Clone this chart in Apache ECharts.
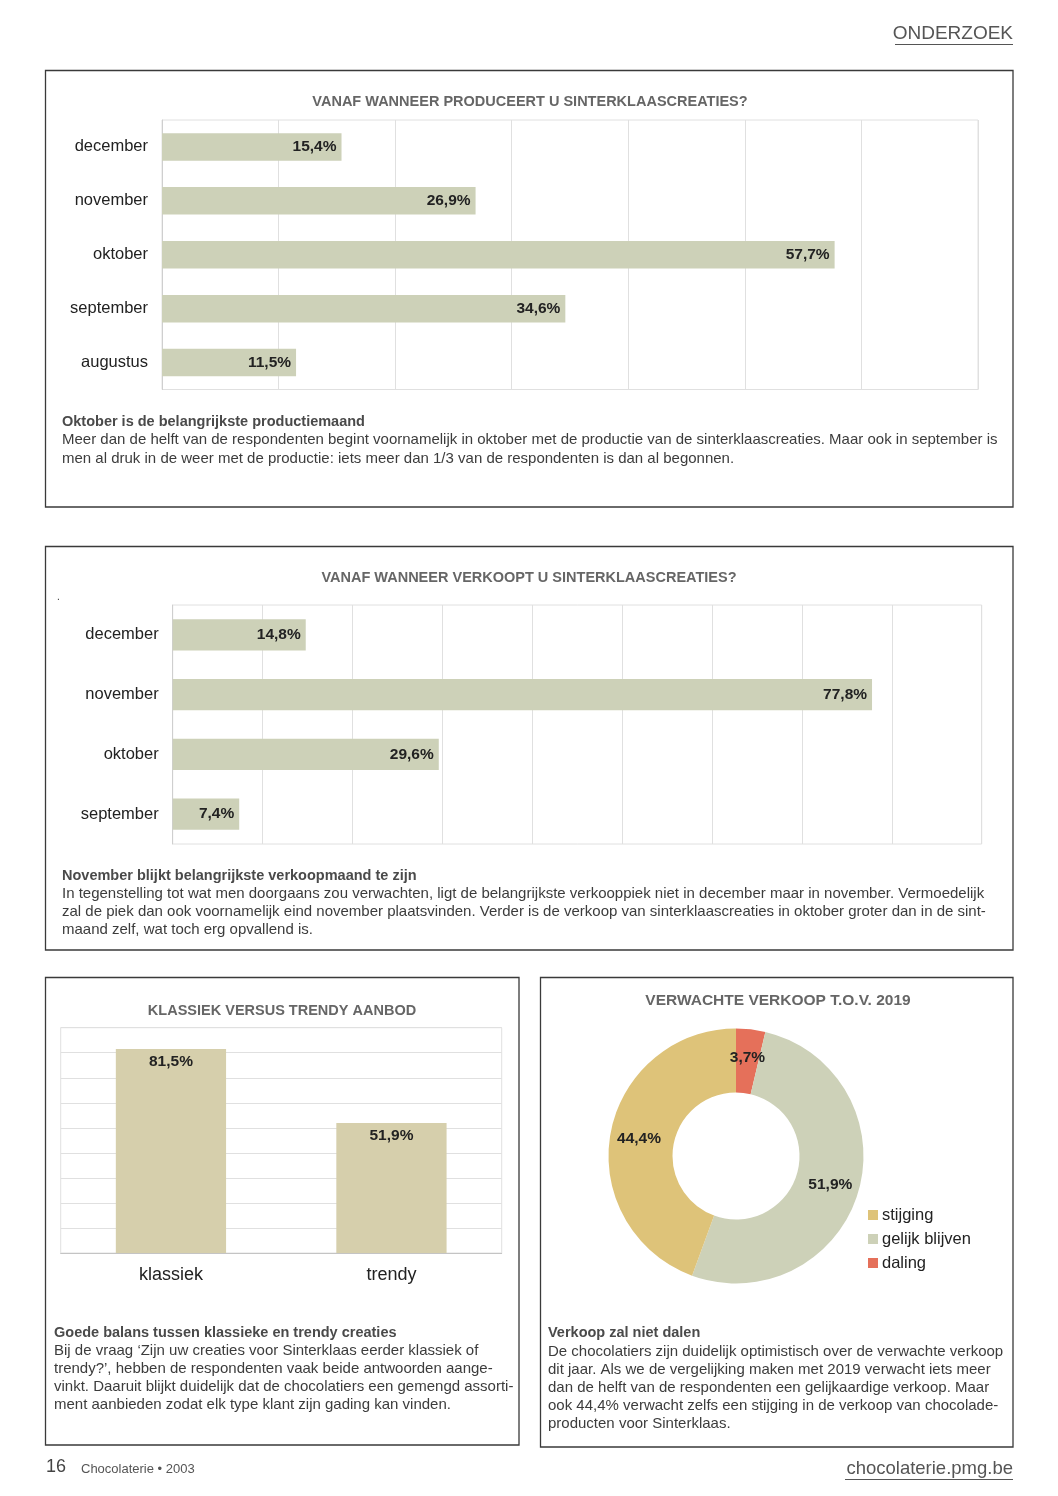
<!DOCTYPE html>
<html>
<head>
<meta charset="utf-8">
<script src="https://cdn.jsdelivr.net/npm/echarts@6/dist/echarts.min.js"></script>
<style>
html,body{margin:0;padding:0;background:#fff;}
#page{width:1058px;height:1496px;}
</style>
</head>
<body>
<div id="page"></div>
<script>
// ---- data ----
const prodCats = ['december', 'november', 'oktober', 'september', 'augustus'];
const prodVals = [15.4, 26.9, 57.7, 34.6, 11.5];
const saleCats = ['december', 'november', 'oktober', 'september'];
const saleVals = [14.8, 77.8, 29.6, 7.4];
const styleCats = ['klassiek', 'trendy'];
const styleVals = [81.5, 51.9];
const expectNames = ['daling', 'gelijk blijven', 'stijging'];
const expectVals = [3.7, 51.9, 44.4];
const legendOrder = ['stijging', 'gelijk blijven', 'daling'];

const titles = [
  'VANAF WANNEER PRODUCEERT U SINTERKLAASCREATIES?',
  'VANAF WANNEER VERKOOPT U SINTERKLAASCREATIES?',
  'KLASSIEK VERSUS TRENDY AANBOD',
  'VERWACHTE VERKOOP T.O.V. 2019'
];
const paragraphs = [
  {head: 'Oktober is de belangrijkste productiemaand', lines: [
    'Meer dan de helft van de respondenten begint voornamelijk in oktober met de productie van de sinterklaascreaties. Maar ook in september is',
    'men al druk in de weer met de productie: iets meer dan 1/3 van de respondenten is dan al begonnen.']},
  {head: 'November blijkt belangrijkste verkoopmaand te zijn', lines: [
    'In tegenstelling tot wat men doorgaans zou verwachten, ligt de belangrijkste verkooppiek niet in december maar in november. Vermoedelijk',
    'zal de piek dan ook voornamelijk eind november plaatsvinden. Verder is de verkoop van sinterklaascreaties in oktober groter dan in de sint-',
    'maand zelf, wat toch erg opvallend is.']},
  {head: 'Goede balans tussen klassieke en trendy creaties', lines: [
    'Bij de vraag \u2018Zijn uw creaties voor Sinterklaas eerder klassiek of',
    'trendy?\u2019, hebben de respondenten vaak beide antwoorden aange-',
    'vinkt. Daaruit blijkt duidelijk dat de chocolatiers een gemengd assorti-',
    'ment aanbieden zodat elk type klant zijn gading kan vinden.']},
  {head: 'Verkoop zal niet dalen', lines: [
    'De chocolatiers zijn duidelijk optimistisch over de verwachte verkoop',
    'dit jaar. Als we de vergelijking maken met 2019 verwacht iets meer',
    'dan de helft van de respondenten een gelijkaardige verkoop. Maar',
    'ook 44,4% verwacht zelfs een stijging in de verkoop van chocolade-',
    'producten voor Sinterklaas.']}
];

// ---- styling ----
const FONT = 'Liberation Sans, Arial, sans-serif';
const barGreen = '#cdd1b8';
const barBeige = '#d6cfac';
const sliceColors = {'stijging': '#dec379', 'gelijk blijven': '#cdd1b8', 'daling': '#e5705a'};
const fmt = v => v.toFixed(1).replace('.', ',') + '%';

const chart = echarts.init(document.getElementById('page'), null, {renderer: 'canvas'});

function para(p, x, yHead, yFirst, lh) {
  return [
    {type: 'text', x: x, y: yHead, style: {text: p.head, fontFamily: FONT, fontSize: 14.5, fontWeight: 'bold', fill: '#4a4a4a', verticalAlign: 'middle'}},
    {type: 'text', x: x, y: yFirst - lh / 2, style: {text: p.lines.join('\n'), fontFamily: FONT, fontSize: 15, fill: '#3c3c3c', lineHeight: lh, verticalAlign: 'top'}}
  ];
}
function box(x, y, w, h) {
  return {type: 'rect', shape: {x: x, y: y, width: w, height: h}, style: {fill: 'none', stroke: '#3a3a3a', lineWidth: 1.3}, silent: true};
}
const titleStyle = {fontSize: 14.5, fontWeight: 'bold', color: '#666', fontFamily: FONT};

const option = {
  backgroundColor: '#fff',
  animation: false,
  textStyle: {fontFamily: FONT},
  title: [
    {text: titles[0], left: 525, top: 89, textAlign: 'center', textStyle: titleStyle},
    {text: titles[1], left: 524, top: 565, textAlign: 'center', textStyle: titleStyle},
    {text: titles[2], left: 277, top: 998, textAlign: 'center', textStyle: titleStyle},
    {text: titles[3], left: 773, top: 988, textAlign: 'center', textStyle: Object.assign({}, titleStyle, {fontSize: 15.5})}
  ],
  grid: [
    {left: 162, top: 120, width: 816, height: 269.5, show: true, borderColor: '#e0e0e0', borderWidth: 1, backgroundColor: 'transparent'},
    {left: 172.7, top: 605, width: 809, height: 239, show: true, borderColor: '#e0e0e0', borderWidth: 1, backgroundColor: 'transparent'},
    {left: 60.7, top: 1027.7, width: 441, height: 225.3, show: true, borderColor: '#e0e0e0', borderWidth: 1, backgroundColor: 'transparent'}
  ],
  xAxis: [
    {type: 'value', gridIndex: 0, min: 0, max: 70, interval: 10, axisLabel: {show: false}, axisLine: {show: false}, axisTick: {show: false},
     splitLine: {lineStyle: {color: '#e0e0e0', width: 1}}},
    {type: 'value', gridIndex: 1, min: 0, max: 90, interval: 10, axisLabel: {show: false}, axisLine: {show: false}, axisTick: {show: false},
     splitLine: {lineStyle: {color: '#e0e0e0', width: 1}}},
    {type: 'category', gridIndex: 2, data: styleCats, axisLine: {lineStyle: {color: '#c4c4c4'}}, axisTick: {length: 9, lineStyle: {color: '#c4c4c4'}},
     axisLabel: {fontSize: 18, color: '#222', margin: 13, fontFamily: FONT}}
  ],
  yAxis: [
    {type: 'category', gridIndex: 0, data: prodCats, inverse: true, axisLine: {lineStyle: {color: '#cfcfcf'}}, axisTick: {length: 7, lineStyle: {color: '#cfcfcf'}},
     axisLabel: {fontSize: 16.5, color: '#222', margin: 14, fontFamily: FONT}},
    {type: 'category', gridIndex: 1, data: saleCats, inverse: true, axisLine: {lineStyle: {color: '#cfcfcf'}}, axisTick: {length: 7, lineStyle: {color: '#cfcfcf'}},
     axisLabel: {fontSize: 16.5, color: '#222', margin: 14, fontFamily: FONT}},
    {type: 'value', gridIndex: 2, min: 0, max: 90, interval: 10, axisLabel: {show: false}, axisLine: {show: false}, axisTick: {show: false},
     splitLine: {lineStyle: {color: '#e0e0e0', width: 1}}}
  ],
  legend: {
    data: legendOrder, orient: 'vertical', left: 863, top: 1201,
    itemWidth: 10, itemHeight: 10, itemGap: 6, icon: 'rect',
    textStyle: {fontSize: 16.5, color: '#222', fontFamily: FONT, padding: [0, 0, 0, -1], lineHeight: 18}
  },
  series: [
    {type: 'bar', xAxisIndex: 0, yAxisIndex: 0, data: prodVals, barCategoryGap: '49%', itemStyle: {color: barGreen},
     label: {show: true, position: 'insideRight', distance: 5, formatter: p => fmt(p.value), fontSize: 15.5, fontWeight: 'bold', color: '#222', fontFamily: FONT}},
    {type: 'bar', xAxisIndex: 1, yAxisIndex: 1, data: saleVals, barCategoryGap: '48%', itemStyle: {color: barGreen},
     label: {show: true, position: 'insideRight', distance: 5, formatter: p => fmt(p.value), fontSize: 15.5, fontWeight: 'bold', color: '#222', fontFamily: FONT}},
    {type: 'bar', xAxisIndex: 2, yAxisIndex: 2, data: styleVals, barCategoryGap: '50%', itemStyle: {color: barBeige},
     label: {show: true, position: 'insideTop', distance: 5, formatter: p => fmt(p.value), fontSize: 15.5, fontWeight: 'bold', color: '#222', fontFamily: FONT}},
    {type: 'pie', center: [736, 1156], radius: [63.5, 127.5], startAngle: 90, clockwise: true,
     data: expectNames.map((n, i) => ({name: n, value: expectVals[i], itemStyle: {color: sliceColors[n]}})),
     label: {show: true, position: 'inside', formatter: p => fmt(p.value), fontSize: 15.5, fontWeight: 'bold', color: '#222', fontFamily: FONT},
     labelLine: {show: false}, emphasis: {disabled: true}}
  ],
  graphic: [].concat(
    [
      box(45.5, 70.5, 967.5, 436.5),
      box(45.5, 546.5, 967.5, 403.5),
      box(45.5, 977.5, 473.5, 467.5),
      box(540.5, 977.5, 472.5, 469.5),
      {type: 'text', x: 1013, y: 34, style: {text: 'ONDERZOEK', fontFamily: FONT, fontSize: 19, fill: '#555', align: 'right', verticalAlign: 'middle'}},
      {type: 'line', shape: {x1: 895, y1: 44.5, x2: 1013, y2: 44.5}, style: {stroke: '#555', lineWidth: 1}},
      {type: 'text', x: 57, y: 597, style: {text: '.', fontFamily: FONT, fontSize: 10, fill: '#333', verticalAlign: 'middle'}},
      {type: 'text', x: 46, y: 1467, style: {text: '16', fontFamily: FONT, fontSize: 18, fill: '#444', verticalAlign: 'middle'}},
      {type: 'text', x: 81, y: 1469, style: {text: 'Chocolaterie \u2022 2003', fontFamily: FONT, fontSize: 13, fill: '#555', verticalAlign: 'middle'}},
      {type: 'text', x: 1013, y: 1469, style: {text: 'chocolaterie.pmg.be', fontFamily: FONT, fontSize: 18.5, fill: '#555', align: 'right', verticalAlign: 'middle'}},
      {type: 'line', shape: {x1: 845, y1: 1479.5, x2: 1013, y2: 1479.5}, style: {stroke: '#555', lineWidth: 1}}
    ],
    para(paragraphs[0], 62, 422, 440, 19),
    para(paragraphs[1], 62, 876, 894, 18),
    para(paragraphs[2], 54, 1333, 1351, 18),
    para(paragraphs[3], 548, 1333, 1352, 18)
  )
};
chart.setOption(option);
</script>
</body>
</html>
